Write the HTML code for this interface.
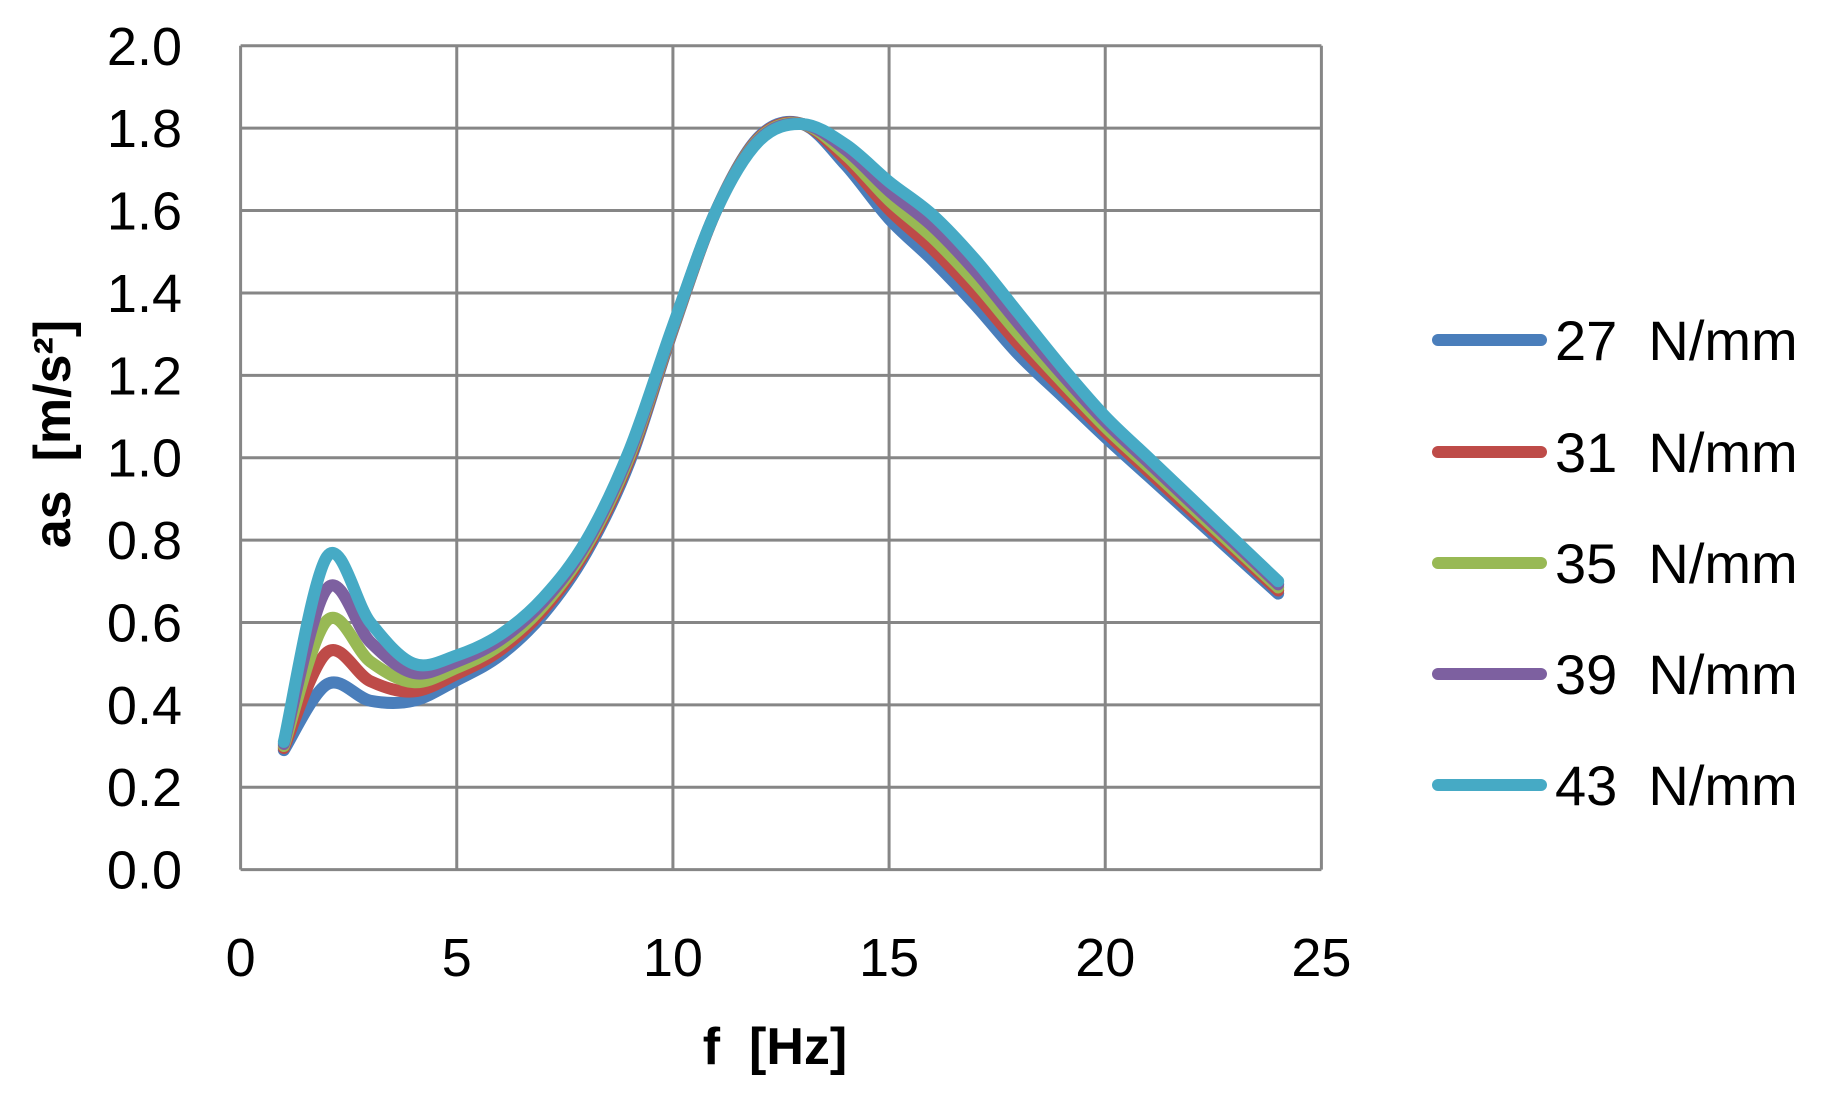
<!DOCTYPE html>
<html><head><meta charset="utf-8"><style>
html,body{margin:0;padding:0;background:#fff;}
svg{display:block;}
text{font-family:"Liberation Sans",sans-serif;fill:#000;}
</style></head><body>
<svg id="s" width="1840" height="1095" viewBox="0 0 1840 1095" xmlns="http://www.w3.org/2000/svg">
<rect width="1840" height="1095" fill="#fff"/>
<g id="grid" stroke="#868686" stroke-width="3" fill="none"></g>
<g id="lab" font-size="54"></g>
<g id="series" fill="none" stroke-width="12" stroke-linecap="round" stroke-linejoin="round"></g>
<text x="775" y="1064" font-size="52" font-weight="bold" text-anchor="middle" xml:space="preserve">f  [Hz]</text>
<text transform="translate(70,434) rotate(-90)" font-size="52" font-weight="bold" text-anchor="middle" xml:space="preserve">as  [m/s²]</text>
<g font-size="56" stroke-linecap="round" stroke-width="12">
<line x1="1438" y1="340" x2="1541" y2="340" stroke="#4a7ebb"/>
<line x1="1438" y1="452" x2="1541" y2="452" stroke="#be4b48"/>
<line x1="1438" y1="563" x2="1541" y2="563" stroke="#98b954"/>
<line x1="1438" y1="674" x2="1541" y2="674" stroke="#7d60a0"/>
<line x1="1438" y1="785" x2="1541" y2="785" stroke="#46aac5"/>
<text x="1555" y="360" xml:space="preserve">27  N/mm</text>
<text x="1555" y="472" xml:space="preserve">31  N/mm</text>
<text x="1555" y="583" xml:space="preserve">35  N/mm</text>
<text x="1555" y="694" xml:space="preserve">39  N/mm</text>
<text x="1555" y="805" xml:space="preserve">43  N/mm</text>
</g>
</svg>
<script>
var L=240.6,R=1321.4,T=45.8,B=869.6;
function X(f){return L+(R-L)*f/25;}
function Y(v){return B-(B-T)*v/2;}
var ns="http://www.w3.org/2000/svg";
var g=document.getElementById('grid'),lab=document.getElementById('lab');
function el(p,tag,at,txt){var e=document.createElementNS(ns,tag);for(var k in at)e.setAttribute(k,at[k]);if(txt)e.textContent=txt;p.appendChild(e);return e;}
for(var i=0;i<=10;i++){var y=Y(i*0.2);el(g,'line',{x1:L,x2:R,y1:y,y2:y});el(lab,'text',{x:182,y:y+19,'text-anchor':'end'},(i*0.2).toFixed(1));}
for(var j=0;j<=5;j++){var x=X(j*5);el(g,'line',{x1:x,x2:x,y1:T,y2:B});el(lab,'text',{x:x,y:976,'text-anchor':'middle'},String(j*5));}
var cy=[0.31,0.76,0.6,0.5,0.52,0.57,0.66,0.8,1.02,1.32,1.6,1.77,1.81,1.76,1.67,1.59,1.48,1.35,1.22,1.1,1.0,0.9,0.8,0.7];
var bl=[0.29,0.45,0.41,0.41,0.46,0.52,0.62,0.77,0.99,1.31,1.6,1.78,1.81,1.71,1.58,1.48,1.37,1.25,1.15,1.05,0.955,0.86,0.765,0.67];
var cols=['#4a7ebb','#be4b48','#98b954','#7d60a0','#46aac5'];
var sg=document.getElementById('series');
for(var s=0;s<5;s++){
 var t=s/4,pts=[];
 for(var k=0;k<24;k++){var v=bl[k]+(cy[k]-bl[k])*t;pts.push([X(k+1),Y(v)]);}
 var d='M'+pts[0][0]+','+pts[0][1];
 for(var k=0;k<pts.length-1;k++){
  var p0=pts[Math.max(0,k-1)],p1=pts[k],p2=pts[k+1],p3=pts[Math.min(pts.length-1,k+2)];
  var c1x=p1[0]+(p2[0]-p0[0])/6,c1y=p1[1]+(p2[1]-p0[1])/6,c2x=p2[0]-(p3[0]-p1[0])/6,c2y=p2[1]-(p3[1]-p1[1])/6;
  d+=' C'+c1x+','+c1y+' '+c2x+','+c2y+' '+p2[0]+','+p2[1];
 }
 el(sg,'path',{d:d,stroke:cols[s]});
}
</script>
</body></html>
